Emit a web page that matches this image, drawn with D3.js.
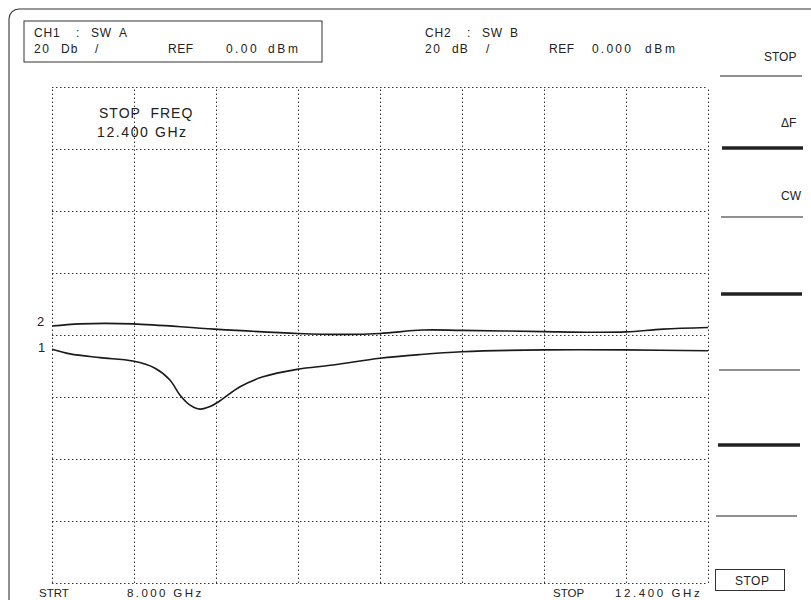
<!DOCTYPE html>
<html><head><meta charset="utf-8">
<script src="https://cdn.jsdelivr.net/npm/d3@7"></script>
<style>
html,body{margin:0;padding:0;background:#fff;}
text{font-family:"Liberation Sans",Arial,sans-serif;fill:#222;white-space:pre;}
</style></head>
<body><svg id="c" width="811" height="600"></svg>
<script>
// ---- data ----
const freqStart = 8.0, freqStop = 12.4;           // GHz
const levelTop = 0, levelBottom = -160;            // dB (REF 0, 20 dB/div, 8 div)
const xGrid = [8.0, 8.55, 9.1, 9.65, 10.2, 10.75, 11.3, 11.85, 12.4];
const yGrid = [0, -20, -40, -60, -80, -100, -120, -140, -160];
const ch1Freq  = [8.000, 8.121, 8.322, 8.543, 8.691, 8.791, 8.859, 8.926, 8.993, 9.060, 9.127, 9.261, 9.415, 9.643, 9.885, 10.200, 10.468, 10.750, 11.300, 11.850, 12.400];
const ch1Level = [-84.6, -86.1, -87.3, -88.4, -90.7, -94.5, -99.4, -102.6, -103.9, -103.1, -101.2, -96.7, -93.5, -91.1, -89.7, -87.5, -86.3, -85.4, -84.8, -84.8, -85.1];
const ch2Freq  = [8.000, 8.188, 8.543, 9.087, 9.650, 9.965, 10.200, 10.488, 10.750, 11.300, 11.588, 11.850, 12.098, 12.400];
const ch2Level = [-77.1, -76.4, -76.4, -78.1, -79.5, -79.8, -79.5, -78.4, -78.5, -78.9, -79.1, -79.0, -78.1, -77.6];
const traceNames = ["1", "2"];
const menuLabels = ["STOP", "\u0394F", "CW"];

// ---- drawing ----
const svg = d3.select("#c");
const x = d3.scaleLinear().domain([freqStart, freqStop]).range([52, 708]);
const y = d3.scaleLinear().domain([levelTop, levelBottom]).range([87, 583]);

// outer frame with rounded corner
svg.append("rect").attr("x", 9).attr("y", 9).attr("width", 900).attr("height", 700)
  .attr("rx", 10).attr("fill", "none").attr("stroke", "#333").attr("stroke-width", 1.1);

// CH1 box
svg.append("rect").attr("x", 24).attr("y", 21).attr("width", 298).attr("height", 41)
  .attr("fill", "none").attr("stroke", "#333").attr("stroke-width", 1);

const T = (tx, ty, s, size, extra) => {
  const t = svg.append("text").attr("x", tx).attr("y", ty).attr("font-size", size || 12).text(s);
  if (extra) t.attr("letter-spacing", extra);
  return t;
};
// header texts
T(34, 37, "CH1", 12, 0.8); T(76, 37, ":", 12); T(91, 37, "SW", 12, 0.8); T(119, 37, "A", 12);
T(34, 52.5, "20", 12, 1.5); T(61, 52.5, "Db", 12, 1.2); T(95, 52.5, "/", 12);
T(168, 52.5, "REF", 12, 0.5); T(226, 52.5, "0.00", 12, 2.4); T(268, 52.5, "dBm", 12, 2.6);

T(425, 37, "CH2", 12, 0.8); T(467, 37, ":", 12); T(482, 37, "SW", 12, 0.8); T(510, 37, "B", 12);
T(425, 52.5, "20", 12, 1.5); T(452, 52.5, "dB", 12, 1.2); T(486, 52.5, "/", 12);
T(549, 52.5, "REF", 12, 0.5); T(592, 52.5, "0.000", 12, 2.2); T(645, 52.5, "dBm", 12, 2.6);

// grid via axes
const gridStyle = g => {
  g.select(".domain").remove();
  g.selectAll("text").remove();
  g.selectAll("line").attr("stroke", "#333").attr("stroke-width", 1).attr("stroke-dasharray", "1.5,2.5");
};
svg.append("g").attr("transform", `translate(0,${y(levelBottom)})`)
  .call(d3.axisBottom(x).tickValues(xGrid).tickSize(-(y(levelBottom) - y(levelTop))))
  .call(gridStyle);
svg.append("g").attr("transform", `translate(${x(freqStart)},0)`)
  .call(d3.axisLeft(y).tickValues(yGrid).tickSize(-(x(freqStop) - x(freqStart))))
  .call(gridStyle);

// stop freq annotation
T(99, 118, "STOP  FREQ", 14, 1);
T(97, 137, "12.400 GHz", 14, 1.6);

// traces
const line = d3.line().x(d => x(d[0])).y(d => y(d[1])).curve(d3.curveCatmullRom.alpha(0.5));
const tr1 = ch1Freq.map((f, i) => [f, ch1Level[i]]);
const tr2 = ch2Freq.map((f, i) => [f, ch2Level[i]]);
[tr1, tr2].forEach(d => svg.append("path").datum(d).attr("d", line)
  .attr("fill", "none").attr("stroke", "#1a1a1a").attr("stroke-width", 1.6));

// trace labels
T(38, y(ch1Level[0]) + 2.5, traceNames[0], 13);
T(37, y(ch2Level[0]) + 0, traceNames[1], 13);

// right soft-key menu
T(764, 61, menuLabels[0], 12);
T(781, 127, menuLabels[1], 12);
T(781, 200, menuLabels[2], 12);
const menuLines = [[720, 802, 76, 1], [722, 803, 148, 3.5], [721, 803, 217, 1], [721, 802, 294, 3.5],
                   [719, 800, 370, 1], [718, 800, 445, 3.5], [716, 797, 516, 1]];
menuLines.forEach(m => svg.append("line").attr("x1", m[0]).attr("x2", m[1]).attr("y1", m[2]).attr("y2", m[2])
  .attr("stroke", "#222").attr("stroke-width", m[3]));

// STOP box
svg.append("rect").attr("x", 715.5).attr("y", 569.5).attr("width", 69).attr("height", 21)
  .attr("fill", "none").attr("stroke", "#333").attr("stroke-width", 1);
T(735, 585, "STOP", 12, 0.5);

// bottom labels
T(39, 597, "STRT", 11.5);
T(127, 597, "8.000 GHz", 11.5, 2.4);
T(553, 597, "STOP", 11.5);
T(615, 597, "12.400 GHz", 11.5, 2.6);
</script></body></html>
